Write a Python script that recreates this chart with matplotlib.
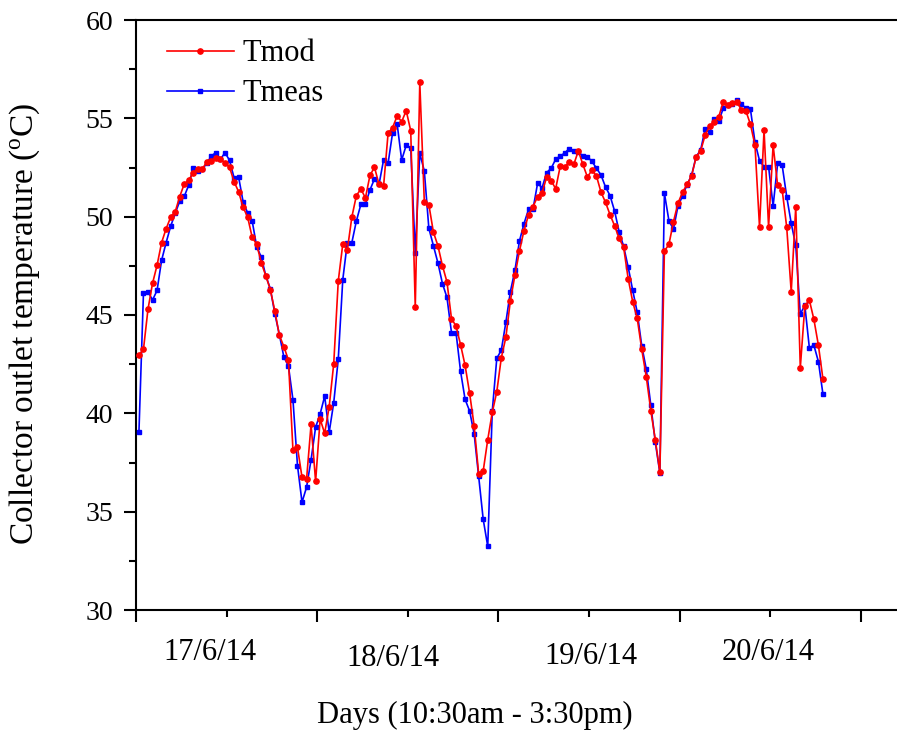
import numpy as np
import matplotlib
matplotlib.use('Agg')
import matplotlib.pyplot as plt
from matplotlib.ticker import MultipleLocator, NullFormatter

# Collector outlet temperature, 40 samples per day (10:30am - 3:30pm)
t_mod = [
    42.95, 43.26, 45.30, 46.61, 47.53, 48.68, 49.39, 49.97, 50.25, 51.02,
    51.66, 51.86, 52.24, 52.42, 52.42, 52.80, 52.85, 52.98, 52.92, 52.73,
    52.51, 51.78, 51.27, 50.48, 49.97, 48.95, 48.59, 47.66, 47.00, 46.29,
    45.20, 43.97, 43.39, 42.71, 38.12, 38.27, 36.75, 36.64, 39.44, 36.54,
    39.71, 38.98, 40.34, 42.52, 46.72, 48.61, 48.30, 49.98, 51.07, 51.41,
    50.95, 52.10, 52.51, 51.64, 51.54, 54.24, 54.53, 55.12, 54.83, 55.39,
    54.37, 45.39, 56.83, 50.75, 50.61, 49.22, 48.52, 47.51, 46.68, 44.81,
    44.44, 43.49, 42.44, 41.02, 39.37, 36.92, 37.07, 38.66, 40.05, 41.10,
    42.83, 43.86, 45.73, 47.02, 48.25, 49.29, 50.08, 50.51, 51.02, 51.20,
    52.02, 51.83, 51.42, 52.56, 52.53, 52.78, 52.66, 53.34, 52.66, 52.02,
    52.36, 52.07, 51.25, 50.73, 50.10, 49.54, 48.90, 48.44, 46.85, 45.68,
    44.83, 43.25, 41.86, 40.14, 38.64, 37.00, 48.25, 48.59, 49.74, 50.69,
    51.24, 51.64, 52.07, 53.03, 53.34, 54.15, 54.61, 54.81, 55.08, 55.85,
    55.66, 55.76, 55.85, 55.42, 55.37, 54.69, 53.63, 49.47, 54.41, 49.47,
    53.64, 51.59, 51.36, 49.47, 46.17, 50.51, 42.31, 45.46, 45.76, 44.78,
    43.46, 41.75,
]
t_meas = [
    39.07, 46.13, 46.19, 45.76, 46.25, 47.78, 48.68, 49.51, 50.17, 50.78,
    51.03, 51.61, 52.49, 52.30, 52.41, 52.73, 53.09, 53.26, 52.92, 53.26,
    52.86, 51.98, 52.02, 50.75, 50.19, 49.78, 48.47, 47.95, 47.00, 46.34,
    45.07, 44.00, 42.86, 42.41, 40.69, 37.34, 35.48, 36.24, 37.64, 39.29,
    39.97, 40.87, 39.04, 40.54, 42.75, 46.80, 48.68, 48.68, 49.78, 50.63,
    50.64, 51.36, 51.92, 51.64, 52.88, 52.71, 54.27, 54.71, 52.88, 53.63,
    53.49, 48.14, 53.22, 52.32, 49.41, 48.52, 47.65, 46.60, 45.89, 44.10,
    44.10, 42.14, 40.71, 40.12, 38.96, 36.80, 34.61, 33.24, 40.12, 42.80,
    43.21, 44.63, 46.19, 47.27, 48.76, 49.64, 50.37, 50.39, 51.69, 51.47,
    52.24, 52.46, 52.92, 53.08, 53.24, 53.46, 53.36, 53.29, 53.08, 53.05,
    52.81, 52.46, 52.12, 51.51, 51.07, 50.29, 49.24, 48.49, 47.44, 46.26,
    45.14, 43.43, 42.25, 40.42, 38.52, 36.97, 51.20, 49.79, 49.36, 50.54,
    51.05, 51.63, 52.10, 53.05, 53.39, 54.46, 54.32, 54.95, 54.86, 55.51,
    55.66, 55.73, 55.93, 55.73, 55.51, 55.46, 53.78, 52.85, 52.54, 52.54,
    50.54, 52.71, 52.61, 51.02, 49.66, 48.54, 45.05, 45.49, 43.34, 43.46,
    42.63, 40.98,
]
day_labels = ['17/6/14', '18/6/14', '19/6/14', '20/6/14']
samples_per_day = 40

plt.rcParams.update({
    'font.family': 'serif',
    'font.serif': ['Liberation Serif', 'DejaVu Serif'],
    'mathtext.fontset': 'custom',
    'mathtext.rm': 'Liberation Serif',
    'mathtext.it': 'Liberation Serif:italic',
    'axes.linewidth': 1.5,
})

# sample index -> position in days
x = (np.arange(len(t_mod)) + 0.65) / samples_per_day

fig = plt.figure(figsize=(8.97, 7.31), dpi=100)
ax = fig.add_axes([136 / 897, 1 - 610 / 731, 1 - 136 / 897, (610 - 20) / 731])

ax.plot(x, t_meas, color='#0000ff', lw=1.2, marker='s', ms=3.4,
        label='Tmeas', zorder=3)
ax.plot(x, t_mod, color='#ff0000', lw=1.2, marker='o', ms=3.8,
        label='Tmod', zorder=4)

ax.set_xlim(0, 4.2)
ax.set_ylim(30, 60)
ax.spines['right'].set_visible(False)

ax.xaxis.set_major_locator(MultipleLocator(1))
ax.xaxis.set_minor_locator(MultipleLocator(0.5))
ax.xaxis.set_major_formatter(NullFormatter())
ax.yaxis.set_major_locator(MultipleLocator(5))
ax.yaxis.set_minor_locator(MultipleLocator(2.5))
ax.tick_params(which='major', direction='out', length=8.6, width=1.5,
               labelsize=20, pad=8, top=False, right=False)
ax.tick_params(which='minor', direction='out', length=5, width=1.5,
               top=False, right=False)

# day names sit between the day boundaries
day_pos = [0.41, 1.42, 2.51, 3.49]
day_dy = [0, 5, 4, 0]
for pos, dy, lab in zip(day_pos, day_dy, day_labels):
    ax.annotate(lab, (pos, 0), xycoords=('data', 'axes fraction'),
                xytext=(0, -43 - dy), textcoords='offset pixels',
                ha='center', va='center', fontsize=22)

ax.set_xlabel('Days (10:30am - 3:30pm)', fontsize=22, labelpad=49,
              x=(475 - 136) / 761)
ax.set_ylabel(r'Collector outlet temperature ($^{\mathrm{o}}$C)',
              fontsize=24, labelpad=31, y=0.485)

handles, labels = ax.get_legend_handles_labels()
ax.legend(handles[::-1], labels[::-1], loc='upper left', frameon=False,
          fontsize=22, handlelength=2.22, handletextpad=0.26,
          labelspacing=0.36, borderaxespad=0.4,
          bbox_to_anchor=(0.008, 1.0085))

fig.savefig('out.png', dpi=100)
